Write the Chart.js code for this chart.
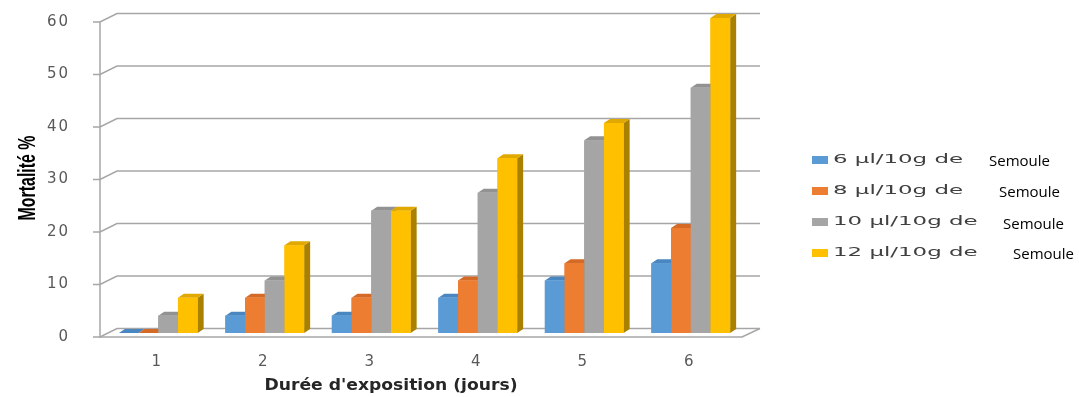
<!DOCTYPE html>
<html>
<head>
<meta charset="utf-8">
<script src="https://cdn.jsdelivr.net/npm/chart.js@4/dist/chart.umd.min.js"></script>
<style>
  html, body { margin: 0; padding: 0; background: #ffffff; }
  #wrap { position: relative; width: 1079px; height: 397px; }
</style>
</head>
<body>
<div id="wrap"><canvas id="c"></canvas></div>
<script>
// Mortality (%) per exposure day, one series per dose
const days = ['1', '2', '3', '4', '5', '6'];
const doseLabels = ['6 µl/10g de', '8 µl/10g de', '10 µl/10g de', '12 µl/10g de'];
const substrate = 'Semoule';
const dose6 = [0, 3.3, 3.3, 6.7, 10, 13.3];
const dose8 = [0, 6.7, 6.7, 10, 13.3, 20];
const dose10 = [3.3, 10, 23.3, 26.7, 36.7, 46.7];
const dose12 = [6.7, 16.7, 23.3, 33.3, 40, 60];
const yMax = 60;
const yStep = 10;
const xTitle = "Durée d'exposition (jours)";
const yTitle = 'Mortalité %';

// front / side / top colours for the pseudo-3D columns
const faces = [
  { front: '#5b9bd5', side: '#3d6f9e', top: '#4a86bf' },
  { front: '#ed7d31', side: '#a9561f', top: '#d46a26' },
  { front: '#a5a5a5', side: '#767676', top: '#929292' },
  { front: '#ffc000', side: '#a98000', top: '#e0a800' }
];
const DX = 6, DY = 4;          // column depth
const GRID = '#a6a6a6';

// back wall grid, front axis and floor
const wallPlugin = {
  id: 'wall',
  beforeDraw(chart) {
    chart.ctx.letterSpacing = '2px';
  },
  beforeDatasetsDraw(chart) {
    const { ctx, chartArea: a, scales: { y } } = chart;
    ctx.save();
    ctx.letterSpacing = '0px';
    const fx = a.left - 5, bx = a.left + 12, bxr = a.right + 16;
    ctx.strokeStyle = GRID;
    ctx.lineWidth = 1.5;
    y.ticks.forEach(t => {
      const p = y.getPixelForValue(t.value);
      const fy = p + 4, by = p - 4.5;
      ctx.beginPath();
      ctx.moveTo(fx - 7, fy); ctx.lineTo(fx, fy);
      ctx.lineTo(bx, by); ctx.lineTo(bxr, by);
      ctx.stroke();
    });
    const y0 = y.getPixelForValue(0) + 4, yTop = y.getPixelForValue(yMax) + 4;
    ctx.beginPath();
    ctx.moveTo(fx, yTop); ctx.lineTo(fx, y0);
    ctx.lineTo(a.right - 2, y0); ctx.lineTo(bxr, y0 - 8.5);
    ctx.stroke();
    ctx.restore();
  },
  afterDatasetsDraw(chart) {
    const ctx = chart.ctx;
    const metas = chart.data.datasets.map((d, i) => chart.getDatasetMeta(i));
    ctx.save();
    for (let j = 0; j < days.length; j++) {
      metas.forEach((meta, i) => {
        const el = meta.data[j];
        const { x, y, base, width } = el.getProps(['x', 'y', 'base', 'width'], true);
        const l = x - width / 2, r = x + width / 2;
        const c = faces[i];
        ctx.fillStyle = c.side;
        ctx.beginPath();
        ctx.moveTo(r, y); ctx.lineTo(r + DX, y - DY);
        ctx.lineTo(r + DX, base - DY); ctx.lineTo(r, base);
        ctx.closePath(); ctx.fill();
        ctx.fillStyle = c.top;
        ctx.beginPath();
        ctx.moveTo(l, y); ctx.lineTo(l + DX, y - DY);
        ctx.lineTo(r + DX, y - DY); ctx.lineTo(r, y);
        ctx.closePath(); ctx.fill();
        ctx.fillStyle = c.front;
        ctx.fillRect(l, y, width, base - y);
      });
    }
    ctx.restore();
  },
  afterDraw(chart) {
    const ctx = chart.ctx;
    ctx.save();
    ctx.letterSpacing = '0px';

    // x axis title
    ctx.font = 'bold 15px "DejaVu Sans"';
    ctx.fillStyle = '#262626';
    ctx.textAlign = 'center';
    ctx.textBaseline = 'middle';
    let w = ctx.measureText(xTitle).width;
    ctx.save();
    ctx.translate(391, 386);
    ctx.scale(253 / w, 1);
    ctx.fillText(xTitle, 0, 0);
    ctx.restore();

    // y axis title (condensed, rotated)
    ctx.font = 'bold 24px "Liberation Sans"';
    ctx.fillStyle = '#000000';
    ctx.textBaseline = 'alphabetic';
    w = ctx.measureText(yTitle).width;
    ctx.save();
    ctx.translate(35, 178);
    ctx.rotate(-Math.PI / 2);
    ctx.scale(85 / w, 1);
    ctx.fillText(yTitle, 0, 0);
    ctx.restore();

    // legend
    const rows = [160, 191, 222, 253];
    const semX = [989, 999, 1003, 1013];
    const semY = [162, 193, 225, 255];
    ctx.font = '12px "DejaVu Sans"';
    const sx = 130 / ctx.measureText(doseLabels[0]).width;
    doseLabels.forEach((lab, i) => {
      ctx.fillStyle = faces[i].front;
      ctx.fillRect(812, rows[i] - 4, 16, 8);
      ctx.save();
      ctx.font = '12px "DejaVu Sans"';
      ctx.fillStyle = '#404040';
      ctx.textAlign = 'left';
      ctx.textBaseline = 'middle';
      ctx.translate(833, rows[i]);
      ctx.scale(sx, 1);
      ctx.fillText(lab, 0, 0);
      ctx.restore();
      ctx.font = '15px "Open Sans"';
      ctx.fillStyle = '#000000';
      ctx.textAlign = 'left';
      ctx.textBaseline = 'middle';
      ctx.fillText(substrate, semX[i], semY[i]);
    });
    ctx.restore();
  }
};

const seriesValues = [dose6, dose8, dose10, dose12];

new Chart(document.getElementById('c'), {
  type: 'bar',
  data: {
    labels: days,
    datasets: seriesValues.map((vals, i) => ({
      label: doseLabels[i] + ' ' + substrate,
      data: vals,
      backgroundColor: faces[i].front,
      borderWidth: 0,
      categoryPercentage: 0.74,
      barPercentage: 1
    }))
  },
  options: {
    responsive: true,
    maintainAspectRatio: false,
    animation: false,
    layout: { padding: { left: 0, right: 335, top: 18, bottom: 0 } },
    plugins: {
      legend: { display: false },
      tooltip: { enabled: false }
    },
    scales: {
      x: {
        grid: { display: false },
        border: { display: false },
        ticks: {
          font: { family: 'DejaVu Sans', size: 15 },
          color: '#595959',
          padding: 12,
          labelOffset: -1,
          maxRotation: 0
        },
        afterFit(s) {
          s.height = 64;
          s.paddingLeft = 0; s.paddingRight = 0;
        }
      },
      y: {
        min: 0,
        max: yMax,
        grid: { display: false },
        border: { display: false },
        ticks: {
          stepSize: yStep,
          font: { family: 'DejaVu Sans', size: 15 },
          color: '#595959',
          padding: 27,
          labelOffset: 4
        },
        afterFit(s) {
          s.width = 105;
          s.paddingTop = 0; s.paddingBottom = 0;
        }
      }
    }
  },
  plugins: [wallPlugin]
});
</script>
</body>
</html>
